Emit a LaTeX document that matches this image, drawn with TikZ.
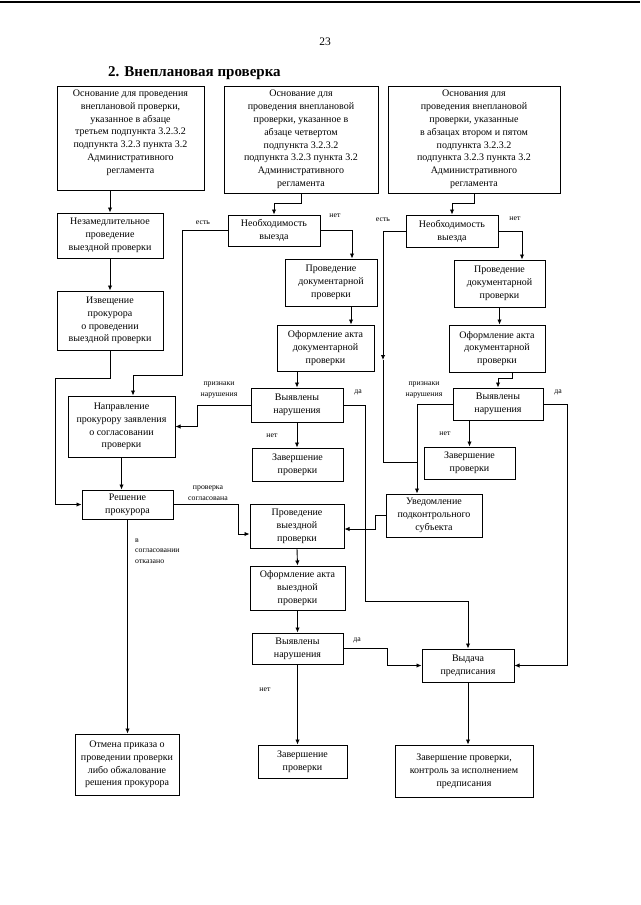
\documentclass[tikz,border=0pt]{standalone}
\usepackage{fontspec}
\setmainfont{Liberation Serif}
\usetikzlibrary{arrows.meta,calc}
\newcommand\bxfont{\fontsize{10}{12.8}\selectfont}
\newcommand\lbfont{\fontsize{7.8}{10.5}\selectfont}
\tikzset{
  box/.style={draw, line width=1pt, align=center, inner sep=1pt, font=\bxfont},
  lbl/.style={inner sep=0pt, align=center, font=\lbfont},
  conn/.style={line width=0.9pt},
  arr/.style={line width=0.9pt, -{Latex[length=5pt,width=4.5pt]}},
}
\begin{document}
\begin{tikzpicture}[x=1pt,y=-1pt]
\useasboundingbox (0,0) rectangle (640,905);
\fill[white] (0,0) rectangle (640,905);
\draw[line width=2pt] (0,2) -- (640,2);
\node[inner sep=0pt, font=\fontsize{11.5}{13}\selectfont] (pg) at (325,42) {23};
\node[anchor=west, inner sep=0pt, font=\fontsize{15}{17}\selectfont\bfseries] (title) at (108,73) {2. Внеплановая проверка};

% top boxes
\node[box, minimum width=147pt, minimum height=104pt] (B1) at (130.5,138) {Основание для проведения\\внеплановой проверки,\\указанное в абзаце\\третьем подпункта 3.2.3.2\\подпункта 3.2.3 пункта 3.2\\Административного\\регламента\\\mbox{}};
\node[box, minimum width=154pt, minimum height=107pt] (B2) at (301,139.5) {Основание для\\проведения внеплановой\\проверки, указанное в\\абзаце четвертом\\подпункта 3.2.3.2\\подпункта 3.2.3 пункта 3.2\\Административного\\регламента};
\node[box, minimum width=172pt, minimum height=107pt] (B3) at (474,139.5) {Основания для\\проведения внеплановой\\проверки, указанные\\в абзацах втором и пятом\\подпункта 3.2.3.2\\подпункта 3.2.3 пункта 3.2\\Административного\\регламента};

% left column
\node[box, minimum width=106pt, minimum height=45pt] (N1) at (110,235.5) {Незамедлительное\\проведение\\выездной проверки};
\node[box, minimum width=106pt, minimum height=59pt] (Izv) at (110,320.5) {Извещение\\прокурора\\о проведении\\выездной проверки};
\node[box, minimum width=107pt, minimum height=61pt] (Napr) at (121.5,426.5) {Направление\\прокурору заявления\\о согласовании\\проверки};
\node[box, minimum width=91pt, minimum height=29pt] (Resh) at (127.5,504.5) {Решение\\прокурора};
\node[box, minimum width=104pt, minimum height=61pt] (Otm) at (127,764.5) {Отмена приказа о\\проведении проверки\\либо обжалование\\решения прокурора};

% middle column
\node[box, minimum width=92pt, minimum height=31pt] (N2) at (274,230.5) {Необходимость\\выезда};
\node[box, minimum width=92pt, minimum height=47pt] (Dok1) at (331,282.5) {Проведение\\документарной\\проверки};
\node[box, minimum width=97pt, minimum height=46pt] (Of1) at (325.5,348) {Оформление акта\\документарной\\проверки};
\node[box, minimum width=92pt, minimum height=34pt] (V1) at (297,405) {Выявлены\\нарушения};
\node[box, minimum width=91pt, minimum height=33pt] (Z1) at (297.5,464.5) {Завершение\\проверки};
\node[box, minimum width=94pt, minimum height=44pt] (PV) at (297,526) {Проведение\\выездной\\проверки};
\node[box, minimum width=95pt, minimum height=44pt] (Of3) at (297.5,588) {Оформление акта\\выездной\\проверки};
\node[box, minimum width=91pt, minimum height=31pt] (V3) at (297.5,648.5) {Выявлены\\нарушения};
\node[box, minimum width=89pt, minimum height=33pt] (Z3) at (302.5,761.5) {Завершение\\проверки};

% right column
\node[box, minimum width=92pt, minimum height=32pt] (N3) at (452,231) {Необходимость\\выезда};
\node[box, minimum width=91pt, minimum height=47pt] (Dok2) at (499.5,283.5) {Проведение\\документарной\\проверки};
\node[box, minimum width=96pt, minimum height=47pt] (Of2) at (497,348.5) {Оформление акта\\документарной\\проверки};
\node[box, minimum width=90pt, minimum height=32pt] (V2) at (498,404) {Выявлены\\нарушения};
\node[box, minimum width=91pt, minimum height=32pt] (Z2) at (469.5,463) {Завершение\\проверки};
\node[box, minimum width=96pt, minimum height=43pt] (Uv) at (434,515.5) {Уведомление\\подконтрольного\\субъекта};
\node[box, minimum width=92pt, minimum height=33pt] (Vyd) at (468,665.5) {Выдача\\предписания};
\node[box, minimum width=138pt, minimum height=52pt] (ZK) at (464,771) {Завершение проверки,\\контроль за исполнением\\предписания};

% coordinates
\coordinate (j1) at (383,360);
\coordinate (j2) at (417,462);

% connectors
\draw[arr] (B1.south -| N1.north) -- (N1.north);
\draw[arr] (B2.south) -- ++(0,10) -| (N2.north);
\draw[arr] (B3.south) -- ++(0,10) -| (N3.north);
\draw[arr] (N1.south) -- (Izv.north);
\draw[arr] (Izv.south) |- (55,378) |- (Resh.west);
\draw[arr] (N2.west) -| (182,375) -| ([xshift=11.5pt]Napr.north);
\draw[arr] (N2.east) -| ([xshift=21pt]Dok1.north);
\draw[arr] ([xshift=20pt]Dok1.south) -- ([xshift=20pt]Dok1.south |- Of1.north);
\draw[arr] (Of1.south -| V1.north) -- (V1.north);
\draw[arr] (V1.south) -- (V1.south |- Z1.north);
\draw[arr] (V1.west) -| (197,426.5) -- (Napr.east);
\draw[arr] (V1.east) -| (365,601) -| (Vyd.north);
\draw[arr] (Napr.south) -- (Napr.south |- Resh.north);
\draw[arr] (Resh.east) -| (238,534) -- ([yshift=-8pt]PV.west);
\draw[arr] (Resh.south) -- (Resh.south |- Otm.north);
\draw[arr] (PV.south) -- (Of3.north);
\draw[arr] (Of3.south) -- (V3.north);
\draw[arr] (V3.south) -- (V3.south |- Z3.north);
\draw[arr] (V3.east) -| (387,665.5) -- (Vyd.west);
\draw[arr] (Vyd.south) -- (Vyd.south |- ZK.north);
\draw[arr] (N3.east) -| ([xshift=22.5pt]Dok2.north);
\draw[arr] (Dok2.south) -- (Dok2.south |- Of2.north);
\draw[arr] ([xshift=15pt]Of2.south) -- ++(0,6) -| (V2.north);
\draw[arr] (Z2.north |- V2.south) -- (Z2.north);
\draw[arr] (V2.west) -| ([xshift=-17pt]Uv.north);
\draw[arr] (V2.east) -| (567,665.5) -- (Vyd.east);
\draw[arr] (N3.west) -| (j1);
\draw[conn] (j1) |- (j2);
\draw[arr] (Uv.west) -| (375,529) -- ([yshift=-3pt]PV.east);

% labels
\node[lbl] (l1) at (203,223) {есть};
\node[lbl] (l2) at (335,216) {нет};
\node[lbl] (l3) at (383,220) {есть};
\node[lbl] (l4) at (515,219) {нет};
\node[lbl] (l5) at (219,390) {признаки\\нарушения};
\node[lbl] (l6) at (358,392) {да};
\node[lbl] (l7) at (272,436) {нет};
\node[lbl] (l8) at (424,390) {признаки\\нарушения};
\node[lbl] (l9) at (558,392) {да};
\node[lbl] (l10) at (445,434) {нет};
\node[lbl] (l11) at (208,493) {проверка\\согласована};
\node[lbl, align=left, anchor=west] (l12) at (135,551) {в\\согласовании\\отказано};
\node[lbl] (l13) at (357,640) {да};
\node[lbl] (l14) at (265,690) {нет};
\end{tikzpicture}
\end{document}
